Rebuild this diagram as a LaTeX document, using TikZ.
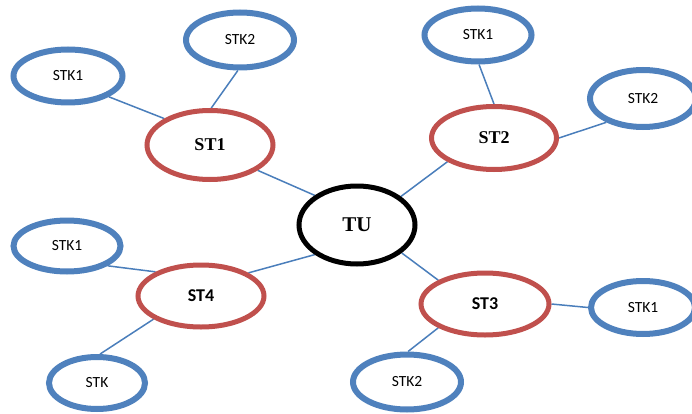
\documentclass[tikz,border=0pt]{standalone}
\usepackage{fontspec}
\setmainfont{Liberation Serif}
\newfontfamily\calfont{Carlito}
\usetikzlibrary{shapes.geometric,backgrounds}
\definecolor{ored}{HTML}{C0504D}
\definecolor{oblue}{HTML}{4F81BD}
\definecolor{lblue}{HTML}{4A7EBB}
\tikzset{
  stk/.style={ellipse,draw=oblue,line width=6pt,fill=white,inner sep=0pt,font=\calfont\fontsize{15.5}{18}\selectfont},
  stnode/.style={ellipse,draw=ored,line width=5pt,fill=white,inner sep=0pt},
  tunode/.style={ellipse,draw=black,line width=5pt,fill=white,inner sep=0pt,font=\bfseries\fontsize{21}{24}\selectfont},
  conn/.style={draw=lblue,line width=1.5pt},
  serifb/.style={font=\bfseries\fontsize{18}{21}\selectfont},
  calb/.style={font=\calfont\bfseries\fontsize{18}{21}\selectfont}
}
\begin{document}
\begin{tikzpicture}[x=1pt,y=-1pt]
\useasboundingbox (0,0) rectangle (692,414);
\node[tunode,minimum width=116pt,minimum height=78pt] (tu) at (357,225) {TU};
\node[stnode,serifb,minimum width=126pt,minimum height=69pt] (st1) at (210,145) {ST1};
\node[stnode,serifb,minimum width=125pt,minimum height=63pt] (st2) at (494,138) {ST2};
\node[stnode,calb,minimum width=128pt,minimum height=62pt] (st3) at (485,304) {ST3};
\node[stnode,calb,minimum width=126pt,minimum height=62pt] (st4) at (201,296) {ST4};
\node[stk,minimum width=109pt,minimum height=53pt] (k1a) at (68,76) {STK1};
\node[stk,minimum width=108pt,minimum height=55pt] (k2a) at (240,40) {STK2};
\node[stk,minimum width=107pt,minimum height=53pt] (k1b) at (478,35) {STK1};
\node[stk,minimum width=106pt,minimum height=57pt] (k2b) at (643,98.5) {STK2};
\node[stk,minimum width=107pt,minimum height=51pt] (k1c) at (67,246) {STK1};
\node[stk,minimum width=96pt,minimum height=52pt] (k) at (97,383) {STK};
\node[stk,minimum width=108pt,minimum height=55pt] (k2c) at (407,382) {STK2};
\node[stk,minimum width=104pt,minimum height=53pt] (k1d) at (643,307.5) {STK1};
\begin{pgfonlayer}{background}
\draw[conn] (k1a.-27.6) -- (st1.150);
\draw[conn] (st1.88) -- (k2a.266);
\draw[conn] (st1.-28) -- (tu.145);
\draw[conn] (tu.215) -- (st4.26.6);
\draw[conn] (tu.33.7) -- (st2.207.6);
\draw[conn] (tu.-32.7) -- (st3.153);
\draw[conn] (st2.east) -- (k2b.213);
\draw[conn] (k1b.-88) -- (st2.north);
\draw[conn] (k1c.-26) -- (st4.152.4);
\draw[conn] (st4.206.6) -- (k.84);
\draw[conn] (st3.east) -- (k1d.west);
\draw[conn] (st3.207) -- (k2c.88);
\end{pgfonlayer}
\end{tikzpicture}
\end{document}
